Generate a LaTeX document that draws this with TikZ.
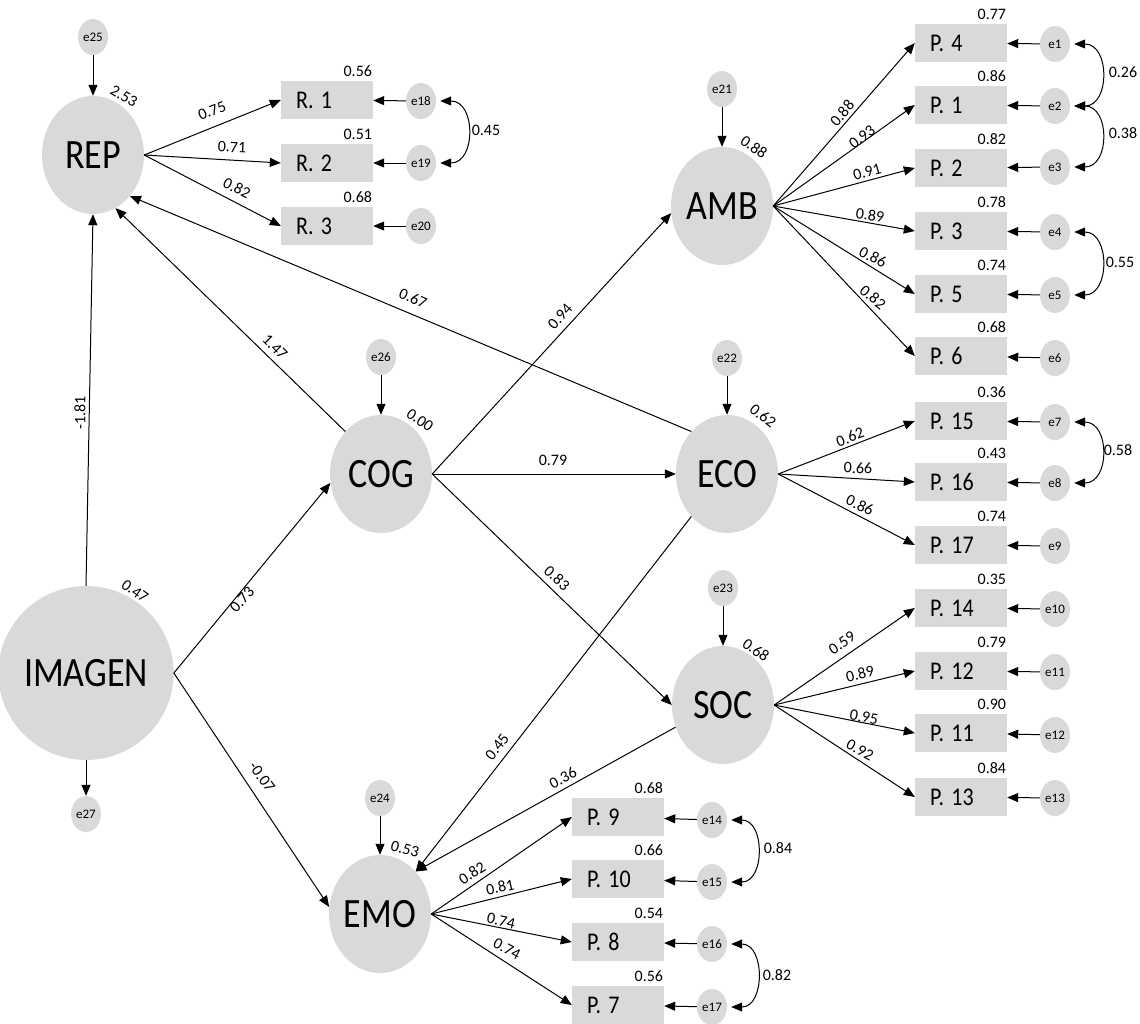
\documentclass[tikz,border=0pt]{standalone}
\usepackage{fontspec}
\usepackage{graphicx}
\setmainfont{Carlito}
\usetikzlibrary{shapes.geometric,arrows.meta}
\definecolor{shade}{HTML}{D9D9D9}
% large labels are drawn slightly taller than wide
\newcommand{\tall}[1]{\scalebox{1}[1.16]{#1}}

\begin{document}
\begin{tikzpicture}[x=1pt,y=-1pt,
  lat/.style={ellipse,fill=shade,inner sep=0pt,minimum width=102pt,minimum height=118pt,
    font=\fontsize{36}{36}\selectfont},
  big/.style={lat,minimum width=150pt,minimum height=174pt},
  err/.style={ellipse,fill=shade,inner sep=0pt,minimum width=30pt,minimum height=36pt,
    font=\fontsize{13}{13}\selectfont},
  obs/.style={rectangle,fill=shade,minimum height=38pt,inner ysep=0pt,inner xsep=15pt,
    text width=62pt,align=left,font=\fontsize{22}{22}\selectfont},
  val/.style={font=\fontsize{16}{16}\selectfont,inner sep=1pt},
  r2/.style={val,anchor=south east,yshift=3pt},
  tip/.style={Triangle[length=11pt,width=9pt]},
  path/.style={draw,line width=1pt,-{Triangle[length=11pt,width=9pt]}},
  cov/.style={draw,line width=1pt,
    {Triangle[length=11pt,width=9pt]}-{Triangle[length=11pt,width=9pt]},
    shorten <=4pt,shorten >=4pt}
]
\useasboundingbox (0,0) rectangle (1140,1023);

% ---------- latent variables ----------
\node[big] (IMAGEN) at (86,673) {\tall{IMAGEN}};
\node[lat] (REP) at (93,155) {\tall{REP}};
\node[lat] (COG) at (381,474) {\tall{COG}};
\node[lat] (EMO) at (380,914) {\tall{EMO}};
\node[lat] (AMB) at (722,206) {\tall{AMB}};
\node[lat] (ECO) at (727,474) {\tall{ECO}};
\node[lat] (SOC) at (723,705) {\tall{SOC}};

% ---------- disturbances ----------
\node[err] (e25) at (93,37) {e25};
\node[err] (e27) at (86,814) {e27};
\node[err] (e26) at (381,357) {e26};
\node[err] (e24) at (380,798) {e24};
\node[err] (e21) at (722,89) {e21};
\node[err] (e22) at (727,358) {e22};
\node[err] (e23) at (723,588) {e23};

\draw[path] (e25) -- (REP);
\draw[path] (IMAGEN) -- (e27);
\draw[path] (e26) -- (COG);
\draw[path] (e24) -- (EMO);
\draw[path] (e21) -- (AMB);
\draw[path] (e22) -- (ECO);
\draw[path] (e23) -- (SOC);

% squared multiple correlations of the latents
\node[val,rotate=-30] (vREP) at (124,96) {2.53};
\node[val,rotate=-35] (vIMAGEN) at (135,591) {0.47};
\node[val,rotate=-35] (vCOG) at (420,420) {0.00};
\node[val,rotate=-15] (vEMO) at (405,849) {0.53};
\node[val,rotate=-35] (vAMB) at (754,147) {0.88};
\node[val,rotate=-38] (vECO) at (763,416) {0.62};
\node[val,rotate=-35] (vSOC) at (756,650) {0.68};

% ---------- structural paths ----------
\draw[path] (IMAGEN.north) -- (REP.south);
\draw[path] (IMAGEN.east) -- (COG.190);
\draw[path] (IMAGEN.east) -- (EMO.172);
\draw[path] (COG.130) -- (REP.-67);
\draw[path] (ECO.130) -- (REP.-48);
\draw[path] (COG.east) -- (AMB.188);
\draw[path] (COG.east) -- (ECO.west);
\draw[path] (COG.east) -- (SOC.west);
\draw[path] (ECO.230) -- (EMO.50);
\draw[path] (SOC.205) -- (EMO.50);

\node[val,rotate=90] (sIR) at (80,413) {-1.81};
\node[val,rotate=48] (sIC) at (242,600) {0.73};
\node[val,rotate=-54] (sIE) at (262,777) {-0.07};
\node[val,rotate=-45] (sCR) at (275,347) {1.47};
\node[val,rotate=-23] (sER) at (413,298) {0.67};
\node[val,rotate=48] (sCA) at (560,317) {0.94};
\node[val] (sCE) at (553,460) {0.79};
\node[val,rotate=-43] (sCS) at (557,578) {0.83};
\node[val,rotate=52] (sEE) at (497,747) {0.45};
\node[val,rotate=28] (sSE) at (563,778) {0.36};

% ---------- REP indicators ----------
\node[obs] (R1) at (327,100) {\tall{R. 1}};
\node[obs] (R2) at (327,163) {\tall{R. 2}};
\node[obs] (R3) at (327,226) {\tall{R. 3}};
\node[err] (e18) at (421,101) {e18};
\node[err] (e19) at (421,163) {e19};
\node[err] (e20) at (421,226) {e20};
\node[r2] (vR1) at (R1.north east) {0.56};
\node[r2] (vR2) at (R2.north east) {0.51};
\node[r2] (vR3) at (R3.north east) {0.68};
\draw[path] (REP.east) -- (R1.west);
\draw[path] (REP.east) -- (R2.west);
\draw[path] (REP.east) -- (R3.west);
\draw[path] (e18) -- (R1);
\draw[path] (e19) -- (R2);
\draw[path] (e20) -- (R3);
\draw[cov] (e18.east) .. controls +(40,0) and +(40,0) .. (e19.east);
\node[val] (c1819) at (486,130) {0.45};
\node[val,rotate=21] (lR1) at (212,111) {0.75};
\node[val,rotate=-3] (lR2) at (232,147) {0.71};
\node[val,rotate=-27] (lR3) at (237,188) {0.82};

% ---------- AMB indicators ----------
\node[obs] (P4) at (961,43) {\tall{P. 4}};
\node[obs] (P1) at (961,105) {\tall{P. 1}};
\node[obs] (P2) at (961,168) {\tall{P. 2}};
\node[obs] (P3) at (961,231) {\tall{P. 3}};
\node[obs] (P5) at (961,294) {\tall{P. 5}};
\node[obs] (P6) at (961,356) {\tall{P. 6}};
\node[err] (e1) at (1055,44) {e1};
\node[err] (e2) at (1055,106) {e2};
\node[err] (e3) at (1055,167) {e3};
\node[err] (e4) at (1055,232) {e4};
\node[err] (e5) at (1055,295) {e5};
\node[err] (e6) at (1055,358) {e6};
\node[r2] (vP4) at (P4.north east) {0.77};
\node[r2] (vP1) at (P1.north east) {0.86};
\node[r2] (vP2) at (P2.north east) {0.82};
\node[r2] (vP3) at (P3.north east) {0.78};
\node[r2] (vP5) at (P5.north east) {0.74};
\node[r2] (vP6) at (P6.north east) {0.68};
\foreach \p in {P4,P1,P2,P3,P5,P6} \draw[path] (AMB.east) -- (\p.west);
\draw[path] (e1) -- (P4);
\draw[path] (e2) -- (P1);
\draw[path] (e3) -- (P2);
\draw[path] (e4) -- (P3);
\draw[path] (e5) -- (P5);
\draw[path] (e6) -- (P6);
\draw[cov] (e1.east) .. controls +(40,0) and +(40,0) .. (e2.east);
\draw[cov] (e2.east) .. controls +(40,0) and +(40,0) .. (e3.east);
\draw[cov] (e4.east) .. controls +(40,0) and +(40,0) .. (e5.east);
\node[val] (c12) at (1123,72) {0.26};
\node[val] (c23) at (1123,133) {0.38};
\node[val] (c45) at (1120,262) {0.55};
\node[val,rotate=50] (lP4) at (842,113) {0.88};
\node[val,rotate=37] (lP1) at (862,137) {0.93};
\node[val,rotate=16] (lP2) at (867,172) {0.91};
\node[val,rotate=-7] (lP3) at (870,215) {0.89};
\node[val,rotate=-27] (lP5) at (873,257) {0.86};
\node[val,rotate=-40] (lP6) at (873,297) {0.82};

% ---------- ECO indicators ----------
\node[obs] (P15) at (961,421) {\tall{P. 15}};
\node[obs] (P16) at (961,482) {\tall{P. 16}};
\node[obs] (P17) at (961,545) {\tall{P. 17}};
\node[err] (e7) at (1055,422) {e7};
\node[err] (e8) at (1055,483) {e8};
\node[err] (e9) at (1055,546) {e9};
\node[r2] (vP15) at (P15.north east) {0.36};
\node[r2] (vP16) at (P16.north east) {0.43};
\node[r2] (vP17) at (P17.north east) {0.74};
\foreach \p in {P15,P16,P17} \draw[path] (ECO.east) -- (\p.west);
\draw[path] (e7) -- (P15);
\draw[path] (e8) -- (P16);
\draw[path] (e9) -- (P17);
\draw[cov] (e7.east) .. controls +(40,0) and +(40,0) .. (e8.east);
\node[val] (c78) at (1118,450) {0.58};
\node[val,rotate=21] (lP15) at (850,437) {0.62};
\node[val,rotate=-2] (lP16) at (858,468) {0.66};
\node[val,rotate=-25] (lP17) at (860,505) {0.86};

% ---------- SOC indicators ----------
\node[obs] (P14) at (961,608) {\tall{P. 14}};
\node[obs] (P12) at (961,671) {\tall{P. 12}};
\node[obs] (P11) at (961,733) {\tall{P. 11}};
\node[obs] (P13) at (961,797) {\tall{P. 13}};
\node[err] (e10) at (1055,609) {e10};
\node[err] (e11) at (1055,672) {e11};
\node[err] (e12) at (1055,735) {e12};
\node[err] (e13) at (1055,798) {e13};
\node[r2] (vP14) at (P14.north east) {0.35};
\node[r2] (vP12) at (P12.north east) {0.79};
\node[r2] (vP11) at (P11.north east) {0.90};
\node[r2] (vP13) at (P13.north east) {0.84};
\foreach \p in {P14,P12,P11,P13} \draw[path] (SOC.east) -- (\p.west);
\draw[path] (e10) -- (P14);
\draw[path] (e11) -- (P12);
\draw[path] (e12) -- (P11);
\draw[path] (e13) -- (P13);
\node[val,rotate=34] (lP14) at (842,643) {0.59};
\node[val,rotate=13] (lP12) at (860,674) {0.89};
\node[val,rotate=-10] (lP11) at (864,717) {0.95};
\node[val,rotate=-29] (lP13) at (860,750) {0.92};

% ---------- EMO indicators ----------
\node[obs] (P9) at (618,817) {\tall{P. 9}};
\node[obs] (P10) at (618,879) {\tall{P. 10}};
\node[obs] (P8) at (618,942) {\tall{P. 8}};
\node[obs] (P7) at (618,1005) {\tall{P. 7}};
\node[err] (e14) at (712,820) {e14};
\node[err] (e15) at (712,882) {e15};
\node[err] (e16) at (712,944) {e16};
\node[err] (e17) at (712,1007) {e17};
\node[r2] (vP9) at (P9.north east) {0.68};
\node[r2] (vP10) at (P10.north east) {0.66};
\node[r2] (vP8) at (P8.north east) {0.54};
\node[r2] (vP7) at (P7.north east) {0.56};
\foreach \p in {P9,P10,P8,P7} \draw[path] (EMO.east) -- (\p.west);
\draw[path] (e14) -- (P9);
\draw[path] (e15) -- (P10);
\draw[path] (e16) -- (P8);
\draw[path] (e17) -- (P7);
\draw[cov] (e14.east) .. controls +(38,0) and +(38,0) .. (e15.east);
\draw[cov] (e16.east) .. controls +(38,0) and +(38,0) .. (e17.east);
\node[val] (c1415) at (778,848) {0.84};
\node[val] (c1617) at (777,975) {0.82};
\node[val,rotate=33] (lP9) at (472,873) {0.82};
\node[val,rotate=12] (lP10) at (500,887) {0.81};
\node[val,rotate=-13] (lP8) at (501,921) {0.74};
\node[val,rotate=-28] (lP7) at (507,949) {0.74};
\end{tikzpicture}
\end{document}
